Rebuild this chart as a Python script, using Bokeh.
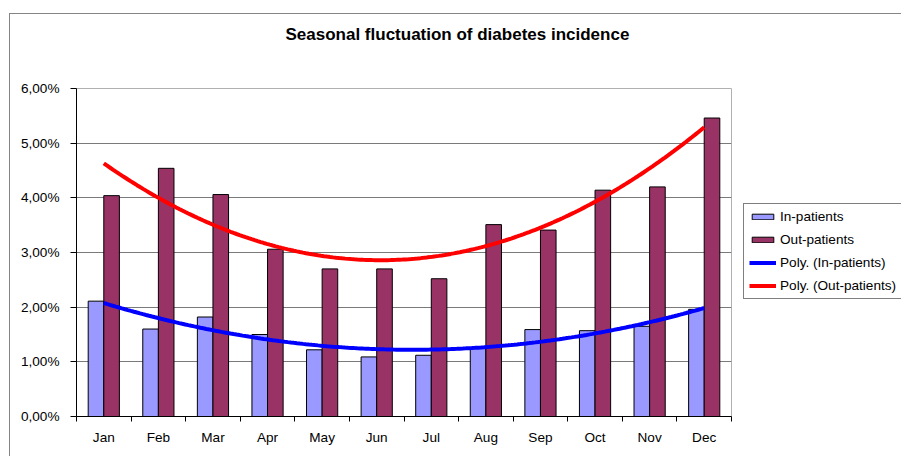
import numpy as np
from bokeh.plotting import figure
from bokeh.models import (Range1d, FixedTicker, Legend, LegendItem, Title,
                          ColumnDataSource)
from bokeh.embed import file_html
from bokeh.resources import INLINE

# ---- data (percent) ----
months = ["Jan", "Feb", "Mar", "Apr", "May", "Jun",
          "Jul", "Aug", "Sep", "Oct", "Nov", "Dec"]
in_patients = [2.11, 1.60, 1.82, 1.50, 1.22, 1.09, 1.12, 1.25, 1.59, 1.57, 1.65, 1.96]
out_patients = [4.04, 4.54, 4.06, 3.06, 2.70, 2.70, 2.52, 3.51, 3.41, 4.14, 4.20, 5.46]
y_ticks = [0, 1, 2, 3, 4, 5, 6]
y_tick_labels = ["0,00%", "1,00%", "2,00%", "3,00%", "4,00%", "5,00%", "6,00%"]
title_text = "Seasonal fluctuation of diabetes incidence"

FONT = "Liberation Sans"
FS = "13.6px"

idx = np.arange(len(months))
bar_w = 1.0 / 3.5  # Excel gap width 150%

src = ColumnDataSource(dict(
    x_in=idx - bar_w / 2,
    x_out=idx + bar_w / 2,
    inp=in_patients,
    outp=out_patients,
))

# polynomial (order 2) trendlines, as Excel does
xf = np.linspace(0, len(months) - 1, 200)
tr_in = np.polyval(np.polyfit(idx, in_patients, 2), xf)
tr_out = np.polyval(np.polyfit(idx, out_patients, 2), xf)

p = figure(frame_width=655, frame_height=328, output_backend="svg", toolbar_location=None,
           x_range=Range1d(-0.5, len(months) - 0.5), y_range=Range1d(0, 6),
           min_border_left=76, min_border_right=0,
           min_border_top=88, min_border_bottom=40)
p.title = None
p.border_fill_color = None
p.background_fill_color = "white"
p.outline_line_color = "#b0b0b0"
p.styles = {
    "background": "linear-gradient(#858585,#858585) 9px 13px / 1px calc(100% - 13px) no-repeat, "
                  "linear-gradient(#858585,#858585) 9px 13px / calc(100% - 9px) 1px no-repeat, white"
}

r_in = p.vbar(x="x_in", top="inp", width=bar_w, source=src,
              fill_color="#9999FF", line_color="black", line_width=1)
r_out = p.vbar(x="x_out", top="outp", width=bar_w, source=src,
               fill_color="#993366", line_color="black", line_width=1)
l_in = p.line(xf, tr_in, line_color="#0000FF", line_width=4)
l_out = p.line(xf, tr_out, line_color="#FF0000", line_width=4)

# grid
p.xgrid.visible = False
p.ygrid.ticker = FixedTicker(ticks=y_ticks[1:-1])
p.ygrid.grid_line_color = "#7a7a7a"
p.ygrid.grid_line_width = 1

# x axis: labels at centres, tick marks at category boundaries
xa = p.xaxis[0]
xa.ticker = FixedTicker(ticks=list(idx),
                        minor_ticks=[i - 0.5 for i in range(len(months) + 1)])
xa.major_label_overrides = {int(i): m for i, m in zip(idx, months)}
xa.major_tick_out = 0
xa.major_tick_in = 0
xa.minor_tick_out = 5
xa.minor_tick_in = 0
xa.minor_tick_line_color = "black"
xa.axis_line_color = "black"
xa.major_label_standoff = 8
xa.major_label_text_font = FONT
xa.major_label_text_font_size = FS
xa.major_label_text_color = "black"

ya = p.yaxis[0]
ya.ticker = FixedTicker(ticks=y_ticks)
ya.major_label_overrides = {t: l for t, l in zip(y_ticks, y_tick_labels)}
ya.major_tick_out = 6
ya.major_tick_in = 0
ya.minor_tick_out = 0
ya.minor_tick_in = 0
ya.major_tick_line_color = "black"
ya.axis_line_color = "black"
ya.major_label_standoff = 11
ya.major_label_text_font = FONT
ya.major_label_text_font_size = FS
ya.major_label_text_color = "black"

# title: an empty second line gives the room between title and plot area
title = Title(text=title_text + "\n ", align="left", offset=209, vertical_align="top",
              standoff=47, text_font=FONT, text_font_size="17px",
              text_font_style="bold", text_color="black")
p.add_layout(title, "above")

legend = Legend(items=[
    LegendItem(label="In-patients", renderers=[r_in]),
    LegendItem(label="Out-patients", renderers=[r_out]),
    LegendItem(label="Poly. (In-patients)", renderers=[l_in]),
    LegendItem(label="Poly. (Out-patients)", renderers=[l_out]),
], location=(12, 117), orientation="vertical")
legend.border_line_color = "black"
legend.border_line_width = 1
legend.background_fill_color = "white"
legend.background_fill_alpha = 1
legend.label_text_font = FONT
legend.label_text_font_size = FS
legend.label_text_color = "black"
legend.padding = 5
legend.margin = 6
legend.spacing = 8
legend.glyph_width = 27
legend.glyph_height = 7
legend.label_height = 15
legend.label_standoff = 4
p.add_layout(legend, "right")

open("out.html", "w").write(file_html(p, INLINE))
